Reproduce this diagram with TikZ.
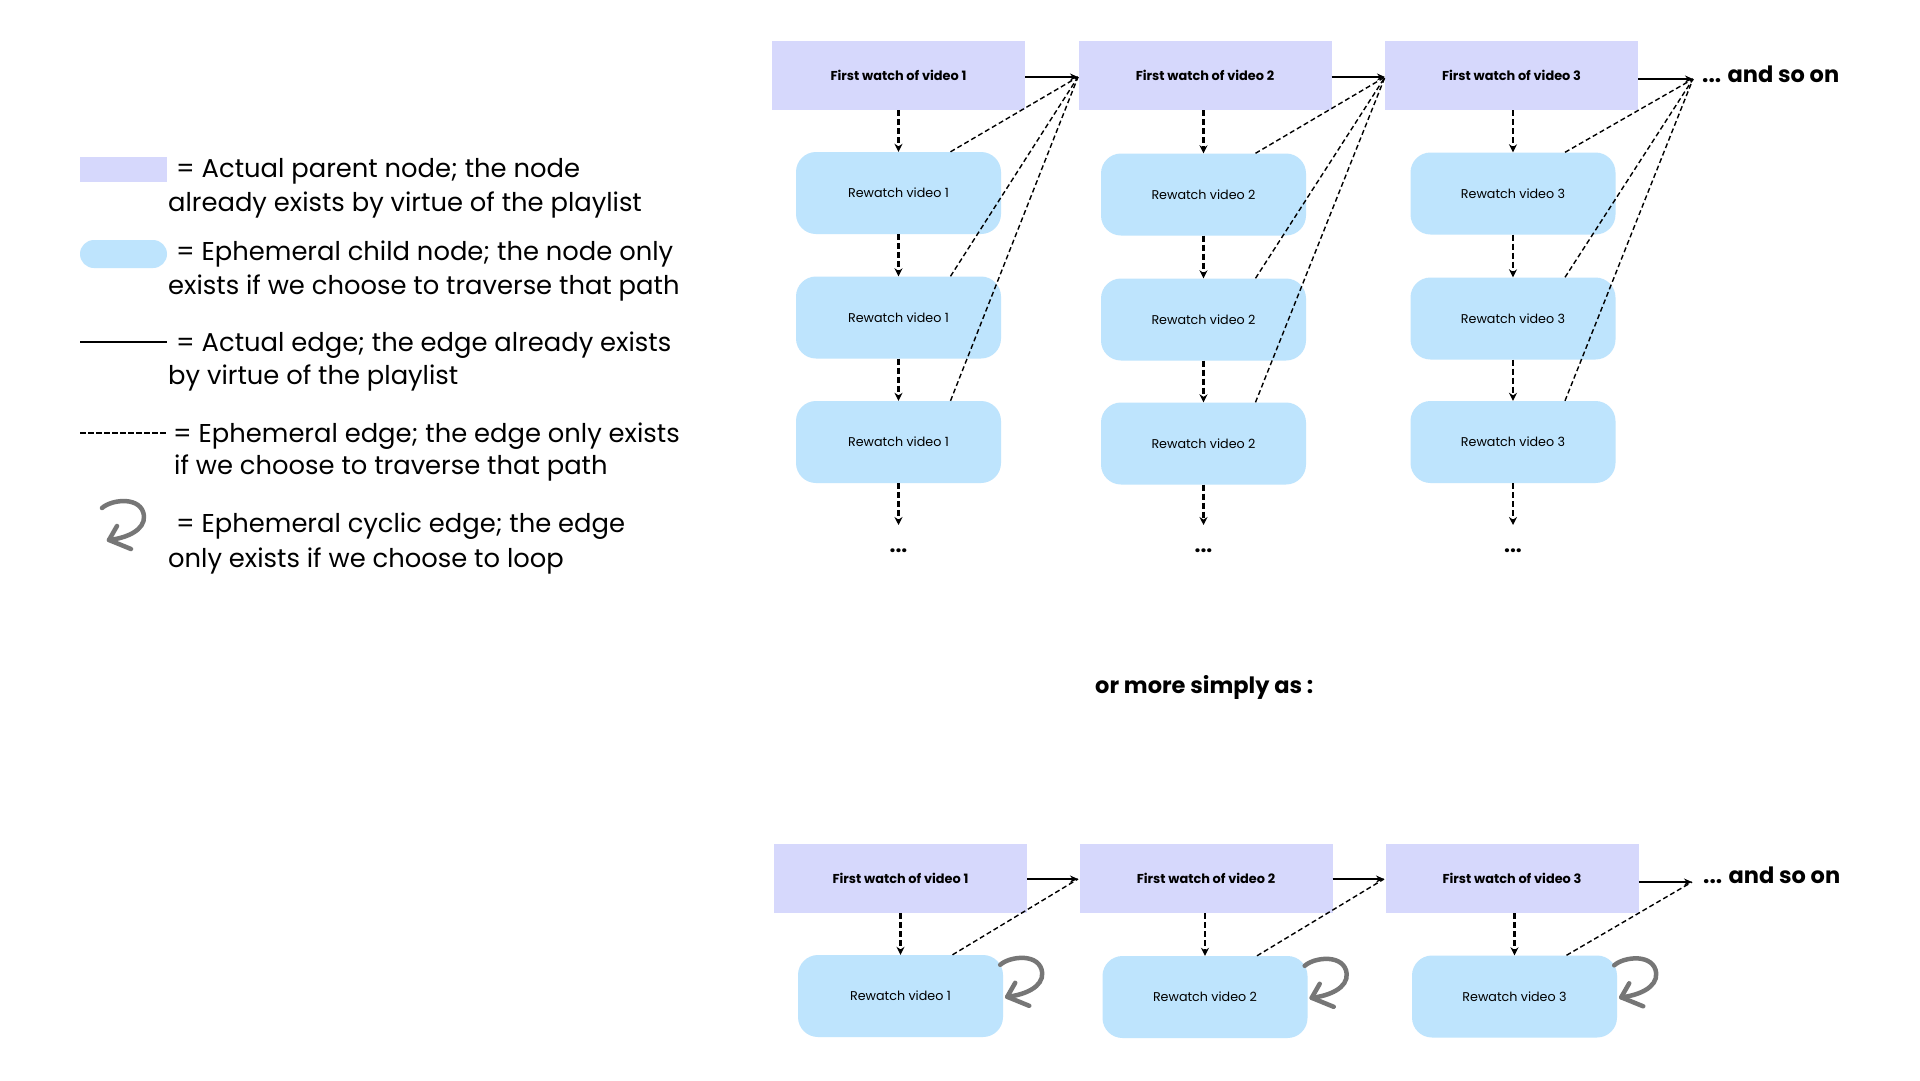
\documentclass[tikz,border=0pt]{standalone}
\usepackage{fontspec}
\setmainfont{Poppins}
\usetikzlibrary{arrows.meta,calc}
\definecolor{parentc}{RGB}{214,216,252}
\definecolor{childc}{RGB}{190,228,253}
\definecolor{curlc}{RGB}{118,118,118}
\tikzset{
 parentbox/.style={rectangle, fill=parentc, minimum width=253pt, minimum height=69pt, inner sep=0pt, font=\fontsize{12.9}{15}\selectfont\bfseries},
 childbox/.style={rectangle, rounded corners=20pt, fill=childc, minimum width=205pt, minimum height=82pt, inner sep=0pt, font=\fontsize{12.7}{15}\selectfont},
 solidarrow/.style={line width=1.5pt, -{Stealth[length=8pt,width=7pt]}},
 vdash/.style={line width=2.2pt, dash pattern=on 6pt off 3pt, -{Stealth[length=8pt,width=8pt]}},
 ddash/.style={line width=1.4pt, dash pattern=on 5pt off 3pt},
 legtext/.style={anchor=base west, inner sep=0pt, font=\fontsize{25.8}{30}\selectfont},
 curlpath/.style={draw=curlc, line width=4.5pt, line cap=round, line join=round},
 dotsnode/.style={font=\fontsize{21}{22}\selectfont\bfseries, inner sep=0pt},
 bigbold/.style={anchor=base west, inner sep=0pt, font=\fontsize{22.5}{26}\selectfont\bfseries},
 pics/curlicon/.style={code={
   \draw[curlpath] (0,0) .. controls (10,-9) and (40,-12) .. (42,8) .. controls (43,22) and (25,30) .. (7,32);
   \draw[curlpath] (15,18) -- (7,32) -- (29,41);
 }},
}
\begin{document}
\begin{tikzpicture}[x=1pt,y=-1pt]
\useasboundingbox[fill=white] (0,0) rectangle (1920,1080);

% ---------- legend ----------
\node[fill=parentc, minimum width=87pt, minimum height=25pt, inner sep=0pt] (lg1) at (123.5,169.5) {};
\node[fill=childc, rounded corners=14pt, minimum width=87pt, minimum height=28pt, inner sep=0pt] (lg2) at (123.5,254) {};
\coordinate (ls1) at (80,342); \coordinate (ls2) at (167,342);
\draw[line width=1.5pt] (ls1) -- (ls2);
\coordinate (ld1) at (80,433); \coordinate (ld2) at (167,433);
\draw[line width=1.3pt, dash pattern=on 5.5pt off 2.5pt] (ld1) -- (ld2);
\pic at (102,508) {curlicon};

\node[legtext] (t1a) at (176,177) {= Actual parent node; the node};
\node[legtext] (t1b) at (168,211) {already exists by virtue of the playlist};
\node[legtext] (t2a) at (176,260) {= Ephemeral child node; the node only};
\node[legtext] (t2b) at (168,294) {exists if we choose to traverse that path};
\node[legtext] (t3a) at (176,351) {= Actual edge; the edge already exists};
\node[legtext] (t3b) at (168,384) {by virtue of the playlist};
\node[legtext] (t4a) at (173,442) {= Ephemeral edge; the edge only exists};
\node[legtext] (t4b) at (174,474) {if we choose to traverse that path};
\node[legtext] (t5a) at (176,532) {= Ephemeral cyclic edge; the edge};
\node[legtext] (t5b) at (168,567) {only exists if we choose to loop};

% ---------- top diagram ----------
\node[parentbox] (p1) at (898.5,75.5) {First watch of video 1};
\node[parentbox] (p2) at (1205,75.5) {First watch of video 2};
\node[parentbox] (p3) at (1511.5,75.5) {First watch of video 3};

\node[childbox] (a11) at (898.5,193) {Rewatch video 1};
\node[childbox] (a12) at (898.5,317.5) {Rewatch video 1};
\node[childbox] (a13) at (898.5,442) {Rewatch video 1};
\node[childbox] (a21) at (1203.5,194.5) {Rewatch video 2};
\node[childbox] (a22) at (1203.5,319.5) {Rewatch video 2};
\node[childbox] (a23) at (1203.5,443.5) {Rewatch video 2};
\node[childbox] (a31) at (1513,193.5) {Rewatch video 3};
\node[childbox] (a32) at (1513,318.5) {Rewatch video 3};
\node[childbox] (a33) at (1513,442) {Rewatch video 3};

\coordinate (tA) at (1078,77);
\coordinate (tB) at (1385,77);
\coordinate (tC) at (1693,79);
\node[bigbold] (more1) at (1702,82) {... and so on};

\draw[solidarrow] (p1.east |- tA) -- (tA);
\draw[solidarrow] (p2.east |- tB) -- (tB);
\draw[solidarrow] (p3.east |- tC) -- (tC);

\foreach \c/\t in {a11/tA,a12/tA,a13/tA,a21/tB,a22/tB,a23/tB,a31/tC,a32/tC,a33/tC}
  \draw[ddash] ([xshift=52pt]\c.north) -- (\t);

\draw[vdash] (a11.north |- p1.south) -- (a11.north);
\draw[vdash] (a11.south) -- (a12.north);
\draw[vdash] (a12.south) -- (a13.north);
\draw[vdash] (a21.north |- p2.south) -- (a21.north);
\draw[vdash] (a21.south) -- (a22.north);
\draw[vdash] (a22.south) -- (a23.north);
\draw[vdash] (a31.north |- p3.south) -- (a31.north);
\draw[vdash] (a31.south) -- (a32.north);
\draw[vdash] (a32.south) -- (a33.north);

\coordinate (e1) at (898.5,525);
\coordinate (e2) at (1203.5,525);
\coordinate (e3) at (1513,525);
\draw[vdash] (a13.south) -- (e1);
\draw[vdash] (a23.south) -- (e2);
\draw[vdash] (a33.south) -- (e3);
\node[dotsnode, anchor=base] (d1) at (898.5,552) {...};
\node[dotsnode, anchor=base] (d2) at (1203.5,552) {...};
\node[dotsnode, anchor=base] (d3) at (1513,552) {...};

% ---------- middle text ----------
\node[bigbold] (ormore) at (1095,693) {or more simply as :};

% ---------- bottom diagram ----------
\node[parentbox] (q1) at (900.5,878.5) {First watch of video 1};
\node[parentbox] (q2) at (1206,878.5) {First watch of video 2};
\node[parentbox] (q3) at (1512,878.5) {First watch of video 3};
\node[childbox] (b1) at (900.5,996) {Rewatch video 1};
\node[childbox] (b2) at (1205,997) {Rewatch video 2};
\node[childbox] (b3) at (1514.5,996.5) {Rewatch video 3};

\coordinate (uA) at (1078,879);
\coordinate (uB) at (1384,879);
\coordinate (uC) at (1692,882);
\node[bigbold] (more2) at (1703,883) {... and so on};

\draw[solidarrow] (q1.east |- uA) -- (uA);
\draw[solidarrow] (q2.east |- uB) -- (uB);
\draw[solidarrow] (q3.east |- uC) -- (uC);

\draw[ddash] ([xshift=52pt]b1.north) -- (uA);
\draw[ddash] ([xshift=52pt]b2.north) -- (uB);
\draw[ddash] ([xshift=52pt]b3.north) -- (uC);

\draw[vdash] (b1.north |- q1.south) -- (b1.north);
\draw[vdash] (b2.north |- q2.south) -- (b2.north);
\draw[vdash] (b3.north |- q3.south) -- (b3.north);

\pic at ($(b1.north east)+(-3,10)$) {curlicon};
\pic at ($(b2.north east)+(-3,10)$) {curlicon};
\pic at ($(b3.north east)+(-3,10)$) {curlicon};
\end{tikzpicture}
\end{document}
